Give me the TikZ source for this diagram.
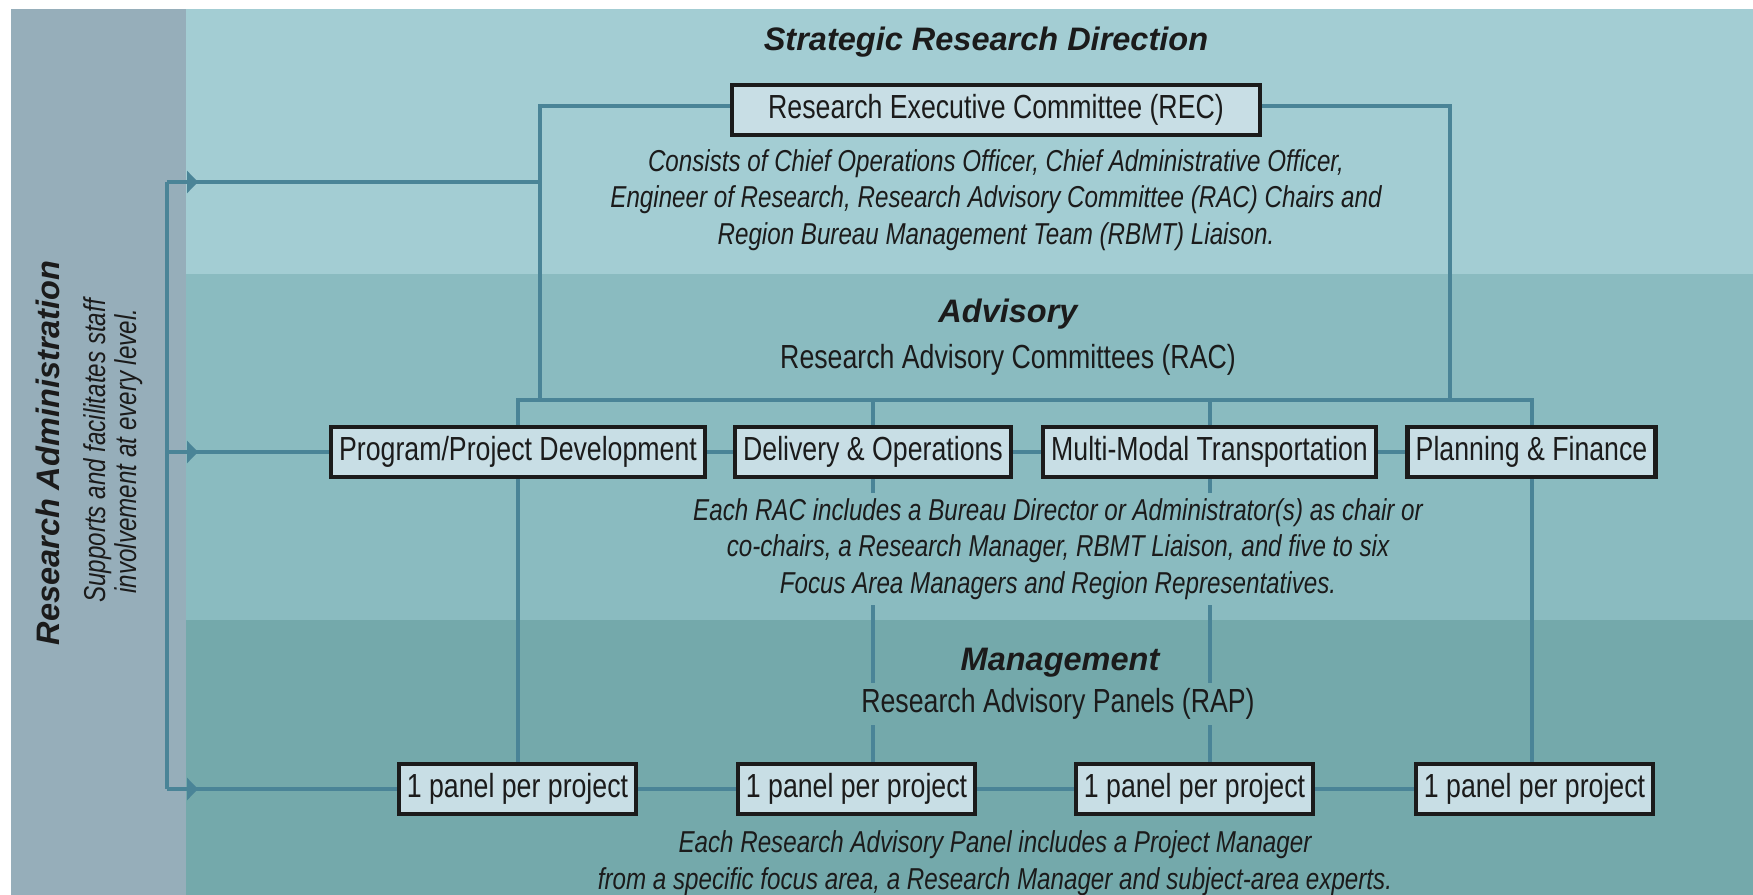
\documentclass[tikz,border=0pt]{standalone}
\usepackage{fontspec}
\setmainfont{Liberation Sans}
\newfontfamily\condfont[FakeStretch=0.8]{Liberation Sans}
\usepackage{tikz}
\usetikzlibrary{positioning,arrows.meta,backgrounds}
\definecolor{admGray}{HTML}{96AEBA}
\definecolor{bandTop}{HTML}{A3CDD3}
\definecolor{bandMid}{HTML}{8ABBC0}
\definecolor{bandLow}{HTML}{74A9AB}
\definecolor{linkTeal}{HTML}{4A8497}
\definecolor{boxFill}{HTML}{C8DEE5}
\definecolor{boxInk}{HTML}{1B1B1B}
\newcommand{\boxfont}{\condfont\fontsize{19}{22}\selectfont}
\newcommand{\notefont}{\condfont\itshape\fontsize{17.2}{20.8}\selectfont}
\newcommand{\headfont}{\bfseries\itshape\fontsize{18.5}{22}\selectfont}
\tikzset{
  orgbox/.style={draw=boxInk, fill=boxFill, line width=2.6pt, minimum height=1.0cm,
                 inner xsep=0.16cm, font=\boxfont, text=boxInk},
  headtext/.style={font=\headfont, text=boxInk},
  subtext/.style={font=\boxfont, text=boxInk},
  notetext/.style={font=\notefont, text=boxInk, align=center},
  link/.style={draw=linkTeal, line width=2.3pt},
  linktip/.style={link, -{Triangle[length=0.22cm, width=0.44cm]}},
}

\begin{document}
\begin{tikzpicture}[x=0.02cm, y=-0.02cm]
\def\yRec{110}      % REC box row
\def\yBus{400}      % RAC bus line
\def\yRac{452}      % RAC box row
\def\yPanel{789}    % panel row

\useasboundingbox (0,0) rectangle (1753,895);

%% Bands
\begin{scope}[on background layer]
  \fill[white] (0,0) rectangle (1753,895);
  \fill[admGray] (11,9) rectangle (186,895);
  \fill[bandTop] (186,9) rectangle (1753,274);
  \fill[bandMid] (186,274) rectangle (1753,620);
  \fill[bandLow] (186,620) rectangle (1753,895);
\end{scope}

%% Research Administration
\node[headtext, rotate=90] (admHead) at (48,453) {Research Administration};
\node[notetext, rotate=90, font=\condfont\itshape\fontsize{17.2}{17.6}\selectfont] (admNote) at (113,451)
  {Supports and facilitates staff\\involvement at every level.};

%% Strategic level
\node[headtext] (hStrat) at (986,42) {Strategic Research Direction};
\node[orgbox, minimum width=10.56cm] (rec) at (996,\yRec) {Research Executive Committee (REC)};
\node[notetext] (recNote) at (996,200)
  {Consists of Chief Operations Officer, Chief Administrative Officer,\\
   Engineer of Research, Research Advisory Committee (RAC) Chairs and\\
   Region Bureau Management Team (RBMT) Liaison.};

%% Advisory level
\node[headtext] (hAdv) at (1008,314) {Advisory};
\node[subtext] (sRac) at (1008,360) {Research Advisory Committees (RAC)};
\foreach \i/\x/\lbl in {1/518/{Program/Project Development}, 2/873/{Delivery \& Operations},
                        3/1209.5/{Multi-Modal Transportation}, 4/1531.5/{Planning \& Finance}} {
  \node[orgbox] (b\i) at (\x,\yRac) {\lbl};
}

%% Management level
\node[headtext] (hMgmt) at (1060,663) {Management};
\foreach \i/\x in {1/517.5, 2/856.5, 3/1194.5, 4/1534.5} {
  \node[orgbox] (p\i) at (\x,\yPanel) {1 panel per project};
}
\node[notetext] (panelNote) at (995,863)
  {Each Research Advisory Panel includes a Project Manager\\
   from a specific focus area, a Research Manager and subject-area experts.};

%% Connectors
\coordinate (bus) at (0,\yBus);
\coordinate (recL) at (540,\yBus);
\coordinate (recR) at (1450,\yBus);
\coordinate (admTop) at (167,182);
\coordinate (admMid) at (admTop |- b1.west);
\coordinate (admBot) at (admTop |- p1.west);

\draw[link] ([yshift=0.08cm]rec.west) -| (recL);
\draw[link] ([yshift=0.08cm]rec.east) -| (recR);
\draw[link] (b1.north) -- (b1.north |- bus) -- (b4.north |- bus) -- (b4.north);
\foreach \i in {2,3} {
  \draw[link] (b\i.north) -- (b\i.north |- bus);
}
\foreach \i/\j in {1/2,2/3,3/4} {
  \draw[link] (b\i) -- (b\j);
  \draw[link] (p\i) -- (p\j);
}
\foreach \i in {1,2,3,4} {
  \draw[link] (b\i.south) -- (b\i.south |- p\i.north);
}
\draw[link] (admTop) -- (admBot);
\draw[link] (admTop) -- (recL |- admTop);
\draw[link] (admMid) -- (b1.west);
\draw[link] (admBot) -- (p1.west);
\foreach \n in {admTop, admMid, admBot} {
  \draw[linktip] (\n) -- ++(31,0);
}

%% Texts that break the drop lines
\node[notetext, fill=bandMid, inner ysep=3pt] (racNote) at (1058,549)
  {Each RAC includes a Bureau Director or Administrator(s) as chair or\\
   co-chairs, a Research Manager, RBMT Liaison, and five to six\\
   Focus Area Managers and Region Representatives.};
\node[subtext, fill=bandLow, inner ysep=3pt] (sRap) at (1058,704) {Research Advisory Panels (RAP)};
\end{tikzpicture}
\end{document}
